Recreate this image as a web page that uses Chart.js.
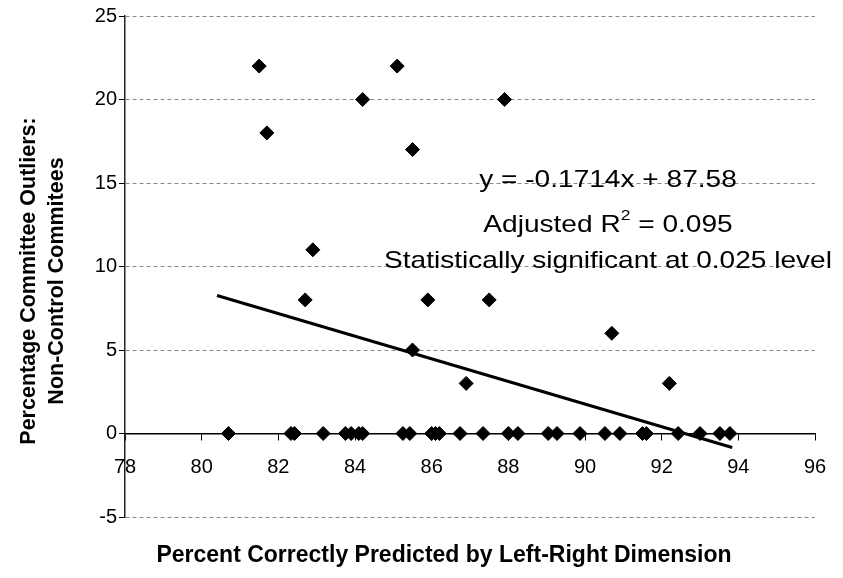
<!DOCTYPE html>
<html>
<head>
<meta charset="utf-8">
<script src="https://cdn.jsdelivr.net/npm/chart.js@4.4.0/dist/chart.umd.min.js"></script>
<style>
    html, body { margin: 0; padding: 0; background: #fff; }
</style>
</head>
<body>
<canvas id="chartScatter" width="843" height="578"></canvas>
<script>
// committees: percent correctly predicted vs percentage of outliers
const pointX = [
    81.5, 81.7, 84.2, 85.1, 87.9, 85.5, 82.9, 82.7, 85.9, 87.5, 90.7, 85.5, 86.9, 92.2,
    80.7, 82.33, 82.42, 83.17, 83.75, 83.9, 84.1, 84.2, 85.25, 85.43, 86.0, 86.1, 86.2,
    86.74, 87.34, 88.0, 88.25, 89.04, 89.27, 89.87, 90.52, 90.91, 91.5, 91.6, 92.43,
    93.0, 93.52, 93.78,
];
const pointY = [
    22, 18, 20, 22, 20, 17, 11, 8, 8, 8, 6, 5, 3, 3,
    0, 0, 0, 0, 0, 0, 0, 0, 0, 0, 0, 0, 0,
    0, 0, 0, 0, 0, 0, 0, 0, 0, 0, 0, 0,
    0, 0, 0,
];
// linear trend as drawn on the figure
const trendX = [80.4, 93.84];
const trendY = [8.26, -0.84];

const xTicks = [78, 80, 82, 84, 86, 88, 90, 92, 94, 96];
const yTicks = [-5, 0, 5, 10, 15, 20, 25];

const xTitle = "Percent Correctly Predicted by Left-Right Dimension";
const yTitle = ["Percentage Committee Outliers:", "Non-Control Commitees"];
const eqLine = "y = -0.1714x + 87.58";
const r2Parts = ["Adjusted R", "2", " = 0.095"];
const sigLine = "Statistically significant at 0.025 level";

const fontName = "'Liberation Sans', Arial, sans-serif";

const textPlugin = {
    id: "textPlugin",
    afterDraw(chart) {
        const ctx = chart.ctx;
        ctx.save();
        ctx.fillStyle = "#000";

        // x axis title
        ctx.font = "bold 23px " + fontName;
        ctx.textAlign = "center";
        ctx.textBaseline = "alphabetic";
        ctx.fillText(xTitle, 444, 562);

        // y axis title (two lines, rotated)
        ctx.font = "bold 21.5px " + fontName;
        ctx.save();
        ctx.translate(0, 281);
        ctx.rotate(-Math.PI / 2);
        ctx.fillText(yTitle[0], 0, 35);
        ctx.fillText(yTitle[1], 0, 63);
        ctx.restore();

        // regression annotation (scan text is wide, so stretch it a little)
        const sx = 1.17;
        const cx = 608;
        ctx.save();
        ctx.scale(sx, 1);
        ctx.font = "24px " + fontName;
        ctx.textAlign = "center";
        ctx.fillText(eqLine, cx / sx, 187);
        ctx.fillText(sigLine, cx / sx, 268);

        const w0 = ctx.measureText(r2Parts[0]).width;
        const w2 = ctx.measureText(r2Parts[2]).width;
        ctx.font = "15px " + fontName;
        const w1 = ctx.measureText(r2Parts[1]).width;
        let x = cx / sx - (w0 + w1 + w2) / 2;
        ctx.textAlign = "left";
        ctx.font = "24px " + fontName;
        ctx.fillText(r2Parts[0], x, 232);
        x += w0;
        ctx.font = "15px " + fontName;
        ctx.fillText(r2Parts[1], x, 220);
        x += w1;
        ctx.font = "24px " + fontName;
        ctx.fillText(r2Parts[2], x, 232);
        ctx.restore();

        ctx.restore();
    },
};

const scatterData = pointX.map((v, i) => ({ x: v, y: pointY[i] }));
const trendData = trendX.map((v, i) => ({ x: v, y: trendY[i] }));

new Chart(document.getElementById("chartScatter"), {
    type: "scatter",
    data: {
        datasets: [{
                type: "line",
                label: "Trend",
                data: trendData,
                borderColor: "#000",
                borderWidth: 3,
                pointRadius: 0,
                fill: false,
                order: 2,
            },
            {
                label: "Committees",
                data: scatterData,
                pointStyle: "rectRot",
                pointRadius: 7,
                backgroundColor: "#000",
                borderColor: "#000",
                borderWidth: 1,
                order: 1,
            },
        ],
    },
    options: {
        responsive: false,
        devicePixelRatio: 1,
        animation: false,
        layout: {
            padding: { left: 0, top: 16, right: 28, bottom: 61 },
        },
        plugins: {
            legend: { display: false },
            tooltip: { enabled: false },
        },
        scales: {
            x: {
                type: "linear",
                min: 78,
                max: 96,
                position: { y: 0 },
                afterBuildTicks: (scale) => {
                    scale.ticks = xTicks.map((v) => ({ value: v }));
                },
                grid: {
                    drawOnChartArea: false,
                    drawTicks: true,
                    tickLength: 6,
                    tickColor: "#000",
                },
                border: { display: true, color: "#000", width: 1.5 },
                ticks: {
                    color: "#000",
                    padding: 16,
                    maxRotation: 0,
                    font: { family: fontName, size: 20 },
                },
            },
            y: {
                type: "linear",
                min: -5,
                max: 25,
                afterBuildTicks: (scale) => {
                    scale.ticks = yTicks.map((v) => ({ value: v }));
                },
                afterFit: (scale) => {
                    scale.width = 125;
                },
                grid: {
                    color: "#8a8a8a",
                    lineWidth: 1,
                    drawTicks: true,
                    tickLength: 6,
                    tickColor: "#000",
                },
                border: { display: true, color: "#222", width: 1.5, dash: [4, 3] },
                ticks: {
                    color: "#000",
                    padding: 2,
                    font: { family: fontName, size: 20 },
                },
            },
        },
    },
    plugins: [textPlugin],
});
</script>
</body>
</html>
